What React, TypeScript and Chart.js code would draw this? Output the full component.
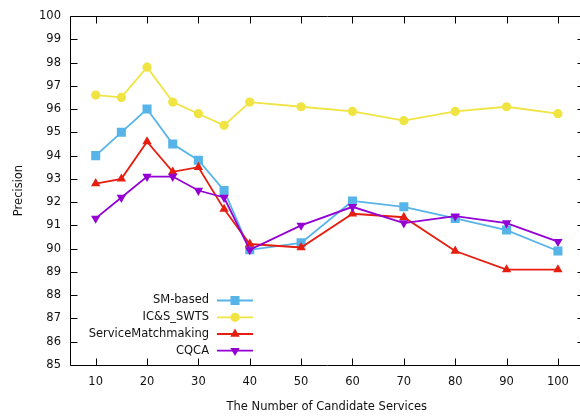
import React, { useEffect, useRef } from "react";
import { Chart, registerables } from "chart.js";

Chart.register(...registerables);

const xValues = [10, 15, 20, 25, 30, 35, 40, 50, 60, 70, 80, 90, 100];
const xTicks = [10, 20, 30, 40, 50, 60, 70, 80, 90, 100];
const smBased = [94.0, 95.0, 96.0, 94.5, 93.8, 92.5, 89.95, 90.25, 92.05, 91.8, 91.3, 90.8, 89.9];
const icsSwts = [96.6, 96.5, 97.8, 96.3, 95.8, 95.3, 96.3, 96.1, 95.9, 95.5, 95.9, 96.1, 95.8];
const serviceMatch = [92.8, 93.0, 94.6, 93.3, 93.5, 91.7, 90.2, 90.05, 91.5, 91.35, 89.9, 89.1, 89.1];
const cqca = [91.3, 92.2, 93.1, 93.1, 92.5, 92.2, 89.95, 91.0, 91.8, 91.1, 91.4, 91.1, 90.3];

const seriesNames = ["SM-based", "IC&S_SWTS", "ServiceMatchmaking", "CQCA"];
const seriesColors = ["#56b4e9", "#f0e442", "#e51e10", "#9400d3"];
const seriesStyles = ["rect", "circle", "triangle", "triangle"];
const seriesRotations = [0, 0, 0, 180];
const seriesRadii = [6.4, 4.6, 5.4, 5.4];

const FONT = "'DejaVu Sans', sans-serif";
const FONT_SIZE = 11.5;
const TEXT_COLOR = "#111";

const framePlugin = {
  id: "frame",
  afterDraw(chart: any) {
    const ctx = chart.ctx;
    const { left, right, top, bottom } = chart.chartArea;
    const xs = chart.scales.x;
    const ys = chart.scales.y;
    ctx.save();
    ctx.strokeStyle = "#000";
    ctx.lineWidth = 1;
    const L = Math.round(left) + 0.5;
    const R = Math.round(right) + 0.5;
    const T = Math.round(top) + 0.5;
    const B = Math.round(bottom) + 0.5;
    ctx.beginPath();
    ctx.rect(L, T, R - L, B - T);
    ctx.stroke();
    ctx.beginPath();
    ys.ticks.forEach((t: any) => {
      const y = Math.round(ys.getPixelForValue(t.value)) + 0.5;
      ctx.moveTo(L, y);
      ctx.lineTo(L + 7, y);
      ctx.moveTo(R, y);
      ctx.lineTo(R - 7, y);
    });
    xs.ticks.forEach((t: any) => {
      const x = Math.round(xs.getPixelForValue(t.value)) + 0.5;
      ctx.moveTo(x, B);
      ctx.lineTo(x, B - 7);
      ctx.moveTo(x, T);
      ctx.lineTo(x, T + 7);
    });
    ctx.stroke();

    // axis titles
    ctx.fillStyle = TEXT_COLOR;
    ctx.font = `${FONT_SIZE}px ${FONT}`;
    ctx.textAlign = "center";
    ctx.textBaseline = "middle";
    ctx.fillText("The Number of Candidate Services", (left + right) / 2, 407);
    ctx.save();
    ctx.translate(19, (top + bottom) / 2);
    ctx.rotate(-Math.PI / 2);
    ctx.fillText("Precision", 0, 0);
    ctx.restore();

    // legend
    const legendYs = [300.5, 317.3, 334, 350.7];
    seriesNames.forEach((name, i) => {
      const y = legendYs[i];
      ctx.fillStyle = TEXT_COLOR;
      ctx.textAlign = "right";
      ctx.textBaseline = "middle";
      ctx.fillText(name, 209, y);
      ctx.strokeStyle = seriesColors[i];
      ctx.lineWidth = 1.8;
      ctx.beginPath();
      ctx.moveTo(217, y);
      ctx.lineTo(253, y);
      ctx.stroke();
      ctx.fillStyle = seriesColors[i];
      (Chart as any).helpers?.drawPoint;
      drawMarker(ctx, seriesStyles[i], seriesRadii[i], seriesRotations[i], 235, y, seriesColors[i]);
    });
    ctx.restore();
  },
};

function drawMarker(ctx: CanvasRenderingContext2D, style: string, r: number, rot: number, x: number, y: number, color: string) {
  ctx.save();
  ctx.fillStyle = color;
  ctx.beginPath();
  if (style === "rect") {
    const s = r * Math.SQRT1_2;
    ctx.rect(x - s, y - s, 2 * s, 2 * s);
  } else if (style === "circle") {
    ctx.arc(x, y, r, 0, Math.PI * 2);
  } else {
    let rad = (rot * Math.PI) / 180;
    ctx.moveTo(x + Math.sin(rad) * r, y - Math.cos(rad) * r);
    rad += (2 * Math.PI) / 3;
    ctx.lineTo(x + Math.sin(rad) * r, y - Math.cos(rad) * r);
    rad += (2 * Math.PI) / 3;
    ctx.lineTo(x + Math.sin(rad) * r, y - Math.cos(rad) * r);
    ctx.closePath();
  }
  ctx.fill();
  ctx.restore();
}

export default function App() {
  const ref = useRef<HTMLCanvasElement>(null);
  useEffect(() => {
    if (!ref.current) return;
    const allSeries = [smBased, icsSwts, serviceMatch, cqca];
    const chart = new Chart(ref.current, {
      type: "line",
      data: {
        datasets: allSeries.map((vals, i) => ({
          label: seriesNames[i],
          data: xValues.map((x, j) => ({ x, y: vals[j] })),
          borderColor: seriesColors[i],
          backgroundColor: seriesColors[i],
          borderWidth: 1.8,
          pointStyle: seriesStyles[i] as any,
          pointRotation: seriesRotations[i],
          pointRadius: seriesRadii[i],
          pointBorderWidth: 0,
          pointBackgroundColor: seriesColors[i],
          tension: 0,
          order: 3 - i,
        })),
      },
      options: {
        responsive: false,
        animation: false,
        devicePixelRatio: 1,
        layout: { padding: { top: 16, right: 6, left: 0, bottom: 0 } },
        plugins: { legend: { display: false }, tooltip: { enabled: false } },
        scales: {
          x: {
            type: "linear",
            min: 5,
            max: 105,
            afterBuildTicks: (scale: any) => {
              scale.ticks = xTicks.map((v) => ({ value: v }));
            },
            afterFit: (scale: any) => {
              scale.height = 51;
            },
            grid: { display: false, drawTicks: false },
            border: { display: false },
            ticks: {
              padding: 10,
              color: TEXT_COLOR,
              font: { family: FONT, size: FONT_SIZE },
              maxRotation: 0,
              autoSkip: false,
            },
          },
          y: {
            min: 85,
            max: 100,
            afterFit: (scale: any) => {
              scale.width = 70;
            },
            grid: { display: false, drawTicks: false },
            border: { display: false },
            ticks: {
              stepSize: 1,
              padding: 9,
              color: TEXT_COLOR,
              font: { family: FONT, size: FONT_SIZE },
            },
          },
        },
      },
      plugins: [framePlugin],
    });
    return () => chart.destroy();
  }, []);
  return (
    <div style={{ position: "fixed", left: 0, top: 0, width: 580, height: 416, overflow: "hidden", background: "#fff" }}>
      <canvas ref={ref} width={590} height={416} style={{ width: 590, height: 416, display: "block" }} />
    </div>
  );
}
